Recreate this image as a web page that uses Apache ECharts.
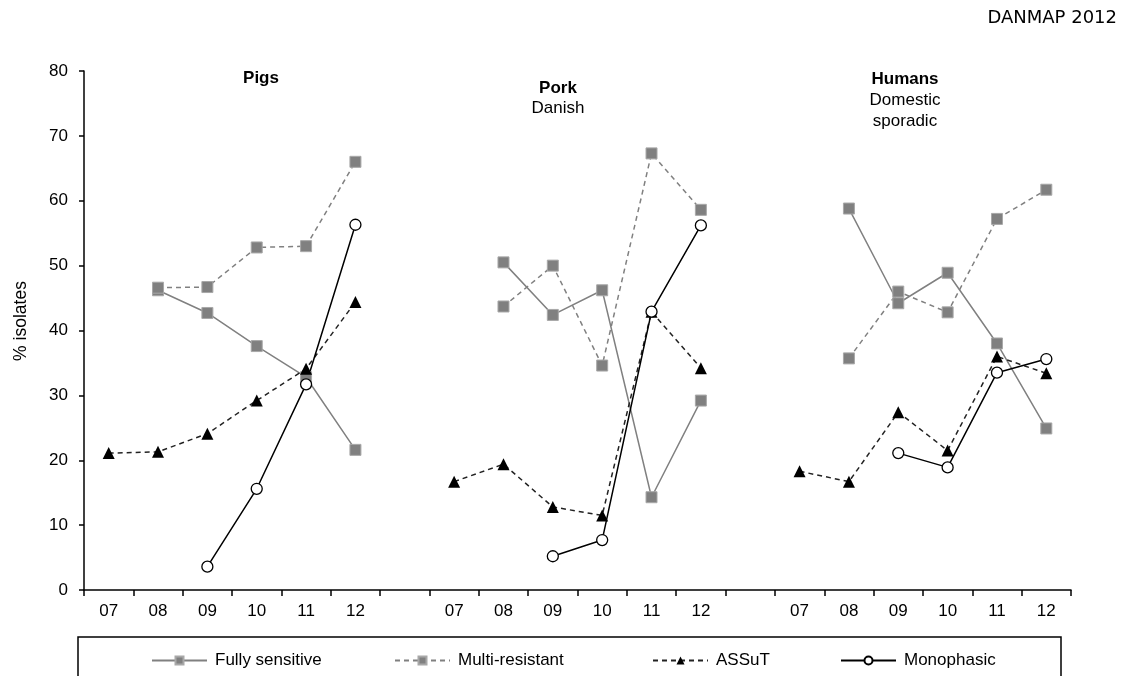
<!DOCTYPE html>
<html><head><meta charset="utf-8">
<script src="https://cdn.jsdelivr.net/npm/echarts@6/dist/echarts.min.js"></script>
<style>html,body{margin:0;padding:0;background:#fff}#c{width:1128px;height:676px}</style>
</head><body><div id="c"></div>
<script>
// ---- data ----
const yearLabels = ['07','08','09','10','11','12'];
const yTicks = [0,10,20,30,40,50,60,70,80];
const seriesNames = ['Fully sensitive','Multi-resistant','ASSuT','Monophasic'];

const pigsFully  = [null, 46.2, 42.7, 37.6, 32.8, 21.6];
const pigsMulti  = [null, 46.6, 46.7, 52.8, 53.0, 66.0];
const pigsAssut  = [21.1, 21.3, 24.1, 29.2, 34.1, 44.4];
const pigsMono   = [null, null, 3.6, 15.6, 31.7, 56.3];

const porkFully  = [null, 50.5, 42.4, 46.2, 14.3, 29.2];
const porkMulti  = [null, 43.7, 50.0, 34.6, 67.3, 58.6];
const porkAssut  = [16.7, 19.4, 12.8, 11.5, 42.9, 34.2];
const porkMono   = [null, null, 5.2, 7.7, 42.9, 56.2];

const humFully   = [null, 58.8, 44.2, 48.9, 38.0, 24.9];
const humMulti   = [null, 35.7, 46.0, 42.8, 57.2, 61.7];
const humAssut   = [18.3, 16.7, 27.4, 21.5, 36.0, 33.4];
const humMono    = [null, null, 21.1, 18.9, 33.5, 35.6];

// ---- build ----
const categories = [...yearLabels, '', ...yearLabels, '', ...yearLabels];
const join = (a, b, c) => [...a, null, ...b, null, ...c];

const FONT = '"Liberation Sans", Arial, sans-serif';
const GRAY = '#808080';
const SQ = { color: GRAY, borderColor: '#a8a8a8', borderWidth: 1 };

const chart = echarts.init(document.getElementById('c'), null, { renderer: 'canvas' });

const series = [
  { name: seriesNames[0], data: join(pigsFully, porkFully, humFully),
    symbol: 'rect', symbolSize: 11, itemStyle: SQ,
    lineStyle: { color: GRAY, width: 1.5, type: 'solid' } },
  { name: seriesNames[1], data: join(pigsMulti, porkMulti, humMulti),
    symbol: 'rect', symbolSize: 11, itemStyle: SQ,
    lineStyle: { color: GRAY, width: 1.5, type: [5, 4] } },
  { name: seriesNames[2], data: join(pigsAssut, porkAssut, humAssut),
    symbol: 'triangle', symbolSize: 12, itemStyle: { color: '#000' },
    lineStyle: { color: '#222', width: 1.5, type: [5, 4] } },
  { name: seriesNames[3], data: join(pigsMono, porkMono, humMono),
    symbol: 'circle', symbolSize: 11, itemStyle: { color: '#fff', borderColor: '#000', borderWidth: 1.3 },
    lineStyle: { color: '#000', width: 1.5, type: 'solid' } }
].map(s => Object.assign({ type: 'line', connectNulls: false, showSymbol: true,
  emphasis: { disabled: true }, silent: true }, s));

const legendLeft = [151, 394, 652, 840];
const legends = seriesNames.map((n, i) => ({
  data: [n], left: legendLeft[i], top: 652, padding: 0, itemWidth: 55, itemHeight: 10,
  textStyle: { fontFamily: FONT, fontSize: 17, color: '#000', padding: [0, 0, 0, 3] },
  selectedMode: false
}));

function txt(x, y, t, bold) {
  return { type: 'text', x, y, style: { text: t, fontFamily: FONT, fontSize: 17,
    fontWeight: bold ? 'bold' : 'normal', fill: '#000', align: 'center', verticalAlign: 'middle' } };
}

chart.setOption({
  animation: false,
  backgroundColor: '#fff',
  grid: { left: 84, right: 57, top: 71, bottom: 86, containLabel: false },
  xAxis: {
    type: 'category', data: categories, boundaryGap: true,
    axisLine: { lineStyle: { color: '#000', width: 1.5 } },
    axisTick: { show: true, interval: 0, length: 6, lineStyle: { color: '#000', width: 1.5 } },
    axisLabel: { interval: 0, margin: 13, fontFamily: FONT, fontSize: 17, color: '#000' },
    splitLine: { show: false }
  },
  yAxis: {
    type: 'value', min: yTicks[0], max: yTicks[yTicks.length - 1], interval: 10,
    axisLine: { show: true, lineStyle: { color: '#000', width: 1.5 } },
    axisTick: { show: true, length: 5, lineStyle: { color: '#000', width: 1.5 } },
    axisLabel: { margin: 16, fontFamily: FONT, fontSize: 17, color: '#000' },
    splitLine: { show: false }
  },
  legend: legends,
  series,
  graphic: [
    txt(261, 78, 'Pigs', true),
    txt(558, 88, 'Pork', true),
    txt(558, 108, 'Danish', false),
    txt(905, 79, 'Humans', true),
    txt(905, 100, 'Domestic', false),
    txt(905, 121, 'sporadic', false),
    { type: 'text', x: 1117, y: 18, style: { text: 'DANMAP 2012', fontFamily: '"DejaVu Sans", Verdana, sans-serif',
      fontSize: 18, fill: '#000', align: 'right', verticalAlign: 'middle' } },
    { type: 'text', x: 21, y: 321, rotation: Math.PI / 2, style: { text: '% isolates', fontFamily: FONT,
      fontSize: 17.5, fill: '#000', align: 'center', verticalAlign: 'middle' } },
    { type: 'rect', shape: { x: 78, y: 637, width: 983, height: 60 },
      style: { fill: 'none', stroke: '#000', lineWidth: 1.5 }, z: 0 }
  ]
});
</script></body></html>
